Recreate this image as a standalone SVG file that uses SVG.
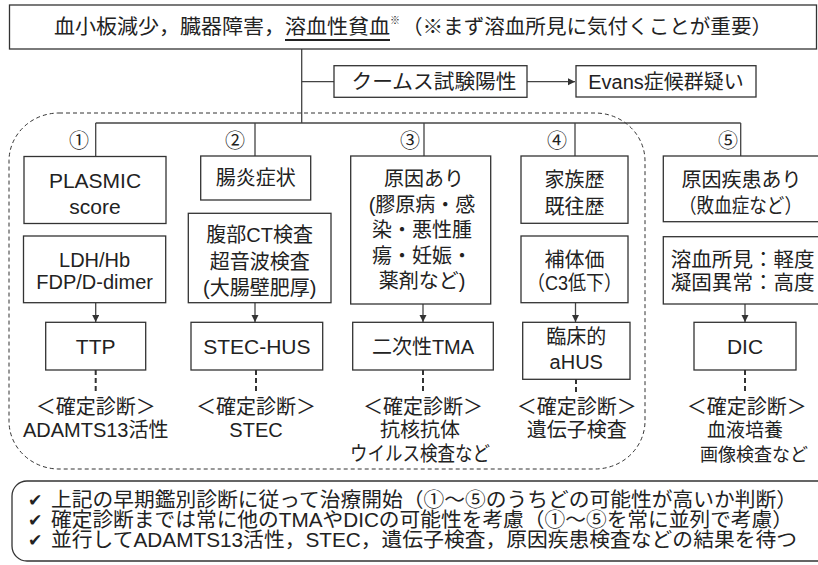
<svg xmlns="http://www.w3.org/2000/svg" width="818" height="565" viewBox="0 0 818 565">
<style>
.bx{fill:#fff;stroke:#333;stroke-width:1.3}
.t{font-family:"Liberation Sans","Noto Sans CJK JP","DejaVu Sans",sans-serif;font-size:20px;fill:#222;text-anchor:middle}
.s{text-anchor:start}
.ln{stroke:#444;stroke-width:1.3;fill:none}
.dl{stroke:#333;stroke-width:2;stroke-dasharray:5 3;fill:none}
.dbox{fill:none;stroke:#333;stroke-width:1;stroke-dasharray:4 3}
.ck{font-family:"DejaVu Sans",sans-serif;font-size:17px;font-weight:bold;fill:#222}
</style>
<defs>
<marker id="ah" markerUnits="userSpaceOnUse" markerWidth="8" markerHeight="8" refX="7" refY="3.5" orient="auto">
<path d="M0,0 L7,3.5 L0,7 z" fill="#333"/>
</marker>
</defs>
<rect class="dbox" x="9" y="113" width="636" height="356" rx="50" ry="48"/>
<g id="connectors">
<path class="ln" d="M301.7,49 V123"/>
<path class="ln" d="M301.7,81.7 H334"/>
<path class="ln" d="M527,81.7 H575" marker-end="url(#ah)"/>
<path class="ln" d="M95.7,123 H740.7"/>
<path class="ln" d="M95.7,123 V156 M255,123 V156 M424,123 V156 M575,123 V156 M740.7,123 V156"/>
<path class="ln" d="M95.7,302.7 V322" marker-end="url(#ah)"/>
<path class="ln" d="M255,302.7 V322" marker-end="url(#ah)"/>
<path class="ln" d="M423,304 V322" marker-end="url(#ah)"/>
<path class="ln" d="M575.5,302.7 V322" marker-end="url(#ah)"/>
<path class="ln" d="M745,304 V322" marker-end="url(#ah)"/>
<path class="dl" d="M95.7,370 V392 M256,370 V392 M423,370 V392 M576,379 V392 M745,370 V392"/>
</g>
<g id="title">
<rect class="bx" x="9.5" y="5" width="807" height="44"/>
<text class="t s" x="54" y="34" textLength="231" lengthAdjust="spacingAndGlyphs">血小板減少，臓器障害，</text>
<text class="t s" x="285" y="34" textLength="105" lengthAdjust="spacingAndGlyphs">溶血性貧血</text>
<line x1="285" y1="40" x2="390" y2="40" stroke="#222" stroke-width="2"/>
<text class="t s" x="390" y="24" style="font-size:10px">※</text>
<text class="t s" x="402" y="34" textLength="370" lengthAdjust="spacingAndGlyphs">（※まず溶血所見に気付くことが重要）</text>
</g>
<g id="coombs">
<rect class="bx" x="334" y="65.7" width="193" height="31.6"/>
<text class="t" x="434" y="88.5" textLength="165" lengthAdjust="spacingAndGlyphs">クームス試験陽性</text>
</g>
<g id="evans">
<rect class="bx" x="576" y="65.7" width="180" height="31.3"/>
<text class="t" x="666" y="88.5">Evans症候群疑い</text>
</g>
<g id="n1">
<text class="t" x="79" y="148">①</text>
<rect class="bx" x="24" y="156.5" width="142" height="67"/>
<text class="t" x="95" y="187.5" style="font-size:21px">PLASMIC</text>
<text class="t" x="95" y="214" style="font-size:21px">score</text>
</g>
<g id="n1b">
<rect class="bx" x="23.5" y="236" width="142.2" height="66.7"/>
<text class="t" x="94.6" y="267">LDH/Hb</text>
<text class="t" x="94.6" y="289">FDP/D-dimer</text>
</g>
<g id="n1c">
<rect class="bx" x="45.7" y="322.3" width="100" height="47.7"/>
<text class="t" x="95.7" y="353.5" style="font-size:21px">TTP</text>
<text class="t" x="95.7" y="414">＜確定診断＞</text>
<text class="t" x="95.7" y="437">ADAMTS13活性</text>
</g>
<g id="n2">
<text class="t" x="235" y="148">②</text>
<rect class="bx" x="200.7" y="156" width="110" height="44"/>
<text class="t" x="255.7" y="185">腸炎症状</text>
</g>
<g id="n2b">
<rect class="bx" x="188.3" y="213.3" width="142.7" height="89.4"/>
<text class="t" x="259.7" y="242">腹部CT検査</text>
<text class="t" x="259.7" y="268.7">超音波検査</text>
<text class="t" x="259.7" y="295.3">(大腸壁肥厚)</text>
</g>
<g id="n2c">
<rect class="bx" x="191" y="322.3" width="131.7" height="47.7"/>
<text class="t" x="256.8" y="353.5" style="font-size:21px">STEC-HUS</text>
<text class="t" x="256" y="414">＜確定診断＞</text>
<text class="t" x="256" y="437">STEC</text>
</g>
<g id="n3">
<text class="t" x="410" y="148">③</text>
<rect class="bx" x="350.7" y="156" width="140" height="148"/>
<text class="t" x="424" y="186">原因あり</text>
<text class="t" x="422" y="211.5">(膠原病・感</text>
<text class="t" x="422" y="237">染・悪性腫</text>
<text class="t" x="422" y="262.5">瘍・妊娠・</text>
<text class="t" x="422" y="288">薬剤など)</text>
</g>
<g id="n3c">
<rect class="bx" x="352.7" y="322.3" width="140.6" height="47.7"/>
<text class="t" x="423" y="353.5">二次性TMA</text>
<text class="t" x="423" y="414">＜確定診断＞</text>
<text class="t" x="420" y="437">抗核抗体</text>
<text class="t" x="420" y="461" textLength="140" lengthAdjust="spacingAndGlyphs">ウイルス検査など</text>
</g>
<g id="n4">
<text class="t" x="557" y="148">④</text>
<rect class="bx" x="521" y="156" width="107" height="67.3"/>
<text class="t" x="574.5" y="187">家族歴</text>
<text class="t" x="574.5" y="213.7">既往歴</text>
</g>
<g id="n4b">
<rect class="bx" x="521" y="236" width="107" height="66.7"/>
<text class="t" x="574.5" y="267">補体価</text>
<text class="t" x="574.5" y="290" textLength="95" lengthAdjust="spacingAndGlyphs">（C3低下）</text>
</g>
<g id="n4c">
<rect class="bx" x="522.7" y="322.3" width="107.3" height="57"/>
<text class="t" x="576.3" y="343.7">臨床的</text>
<text class="t" x="576.3" y="368.7">aHUS</text>
<text class="t" x="576.7" y="414">＜確定診断＞</text>
<text class="t" x="576.7" y="437">遺伝子検査</text>
</g>
<g id="n5">
<text class="t" x="728" y="148">⑤</text>
<rect class="bx" x="663.3" y="156" width="170" height="65.7"/>
<text class="t" x="741.5" y="187">原因疾患あり</text>
<text class="t" x="740.5" y="213" textLength="123" lengthAdjust="spacingAndGlyphs">（敗血症など）</text>
</g>
<g id="n5b">
<rect class="bx" x="663.3" y="236.7" width="170" height="67.3"/>
<text class="t s" x="670.7" y="267" textLength="144" lengthAdjust="spacingAndGlyphs">溶血所見：軽度</text>
<text class="t s" x="670.7" y="290.3" textLength="144" lengthAdjust="spacingAndGlyphs">凝固異常：高度</text>
</g>
<g id="n5c">
<rect class="bx" x="694" y="322.3" width="102" height="47.7"/>
<text class="t" x="745" y="353.5" style="font-size:21px">DIC</text>
<text class="t" x="746.7" y="414">＜確定診断＞</text>
<text class="t s" x="707" y="437" style="font-size:19px">血液培養</text>
<text class="t s" x="700" y="461" style="font-size:18px">画像検査など</text>
</g>
<g id="summary">
<rect class="bx" x="12" y="481" width="830" height="80" rx="15"/>
<text class="ck" x="28" y="506">✔</text>
<text class="t s" x="51" y="507" textLength="746" lengthAdjust="spacingAndGlyphs">上記の早期鑑別診断に従って治療開始（①～⑤のうちどの可能性が高いか判断）</text>
<text class="ck" x="28" y="526">✔</text>
<text class="t s" x="51" y="527" textLength="742" lengthAdjust="spacingAndGlyphs">確定診断までは常に他のTMAやDICの可能性を考慮（①～⑤を常に並列で考慮）</text>
<text class="ck" x="28" y="546">✔</text>
<text class="t s" x="51" y="547" textLength="746" lengthAdjust="spacingAndGlyphs">並行してADAMTS13活性，STEC，遺伝子検査，原因疾患検査などの結果を待つ</text>
</g>
</svg>
